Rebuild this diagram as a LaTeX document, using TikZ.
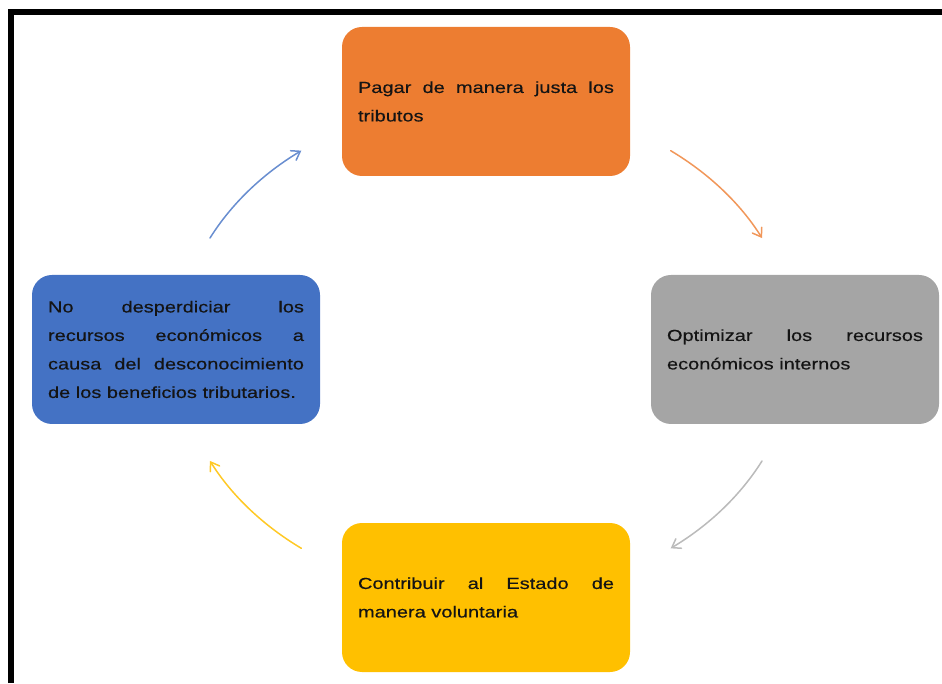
\documentclass[tikz,border=0pt]{standalone}
\usepackage{fontspec}
\usetikzlibrary{arrows.meta}
\newfontfamily\boxfont{Liberation Sans}[FakeStretch=1.25,FakeBold=0.35]
\definecolor{accOrange}{HTML}{ED7D31}
\definecolor{accGray}{HTML}{A5A5A5}
\definecolor{accYellow}{HTML}{FFC000}
\definecolor{accBlue}{HTML}{4472C4}
\definecolor{boxText}{HTML}{141414}
\tikzset{
  cyclebox/.style={rounded corners=20pt, minimum width=288pt, minimum height=149pt,
    inner sep=0pt, text width=256pt, align=justify, text=boxText,
    font=\boxfont\fontsize{16}{28.5}\selectfont},
  cyclearrow/.style={line width=1.5pt, line cap=round,
    -{Straight Barb[length=8pt,width=11pt,line cap=round]}},
}
\begin{document}
\begin{tikzpicture}[x=1pt,y=1pt]
\useasboundingbox (0,0) rectangle (942,683);
% frame
\draw[line width=6pt] (11,0) -- (11,671) -- (942,671);

% centre of the cycle
\coordinate (c) at (486,333.5);

% boxes
\node[cyclebox, fill=accOrange] (pagar) at (486,581.5)
  {\strut Pagar de manera justa los\linebreak tributos\strut};
\node[cyclebox, fill=accGray] (optimizar) at (795,333.5)
  {\strut Optimizar los recursos\linebreak económicos internos\strut};
\node[cyclebox, fill=accYellow] (contribuir) at (486,85.5)
  {\strut Contribuir al Estado de\linebreak manera voluntaria\strut};
\node[cyclebox, fill=accBlue] (desperdiciar) at (176,333.5)
  {\strut No desperdiciar los\linebreak recursos económicos a\linebreak causa del desconocimiento\linebreak de los beneficios tributarios.\strut};

% arrow start points on the cycle ellipse
\path (c) ++(53.3:309pt and 248pt) coordinate (a1);
\path (c) ++(-26.7:309pt and 248pt) coordinate (a2);
\path (c) ++(233.3:309pt and 248pt) coordinate (a3);
\path (c) ++(153.3:309pt and 248pt) coordinate (a4);

% arrows
\draw[cyclearrow, draw=accOrange!80!white] (a1)
  arc[start angle=53.3, end angle=26.7, x radius=309pt, y radius=248pt];
\draw[cyclearrow, draw=accGray!75!white] (a2)
  arc[start angle=-26.7, end angle=-53.3, x radius=309pt, y radius=248pt];
\draw[cyclearrow, draw=accYellow!85!white] (a3)
  arc[start angle=233.3, end angle=206.7, x radius=309pt, y radius=248pt];
\draw[cyclearrow, draw=accBlue!80!white] (a4)
  arc[start angle=153.3, end angle=126.7, x radius=309pt, y radius=248pt];
\end{tikzpicture}
\end{document}
